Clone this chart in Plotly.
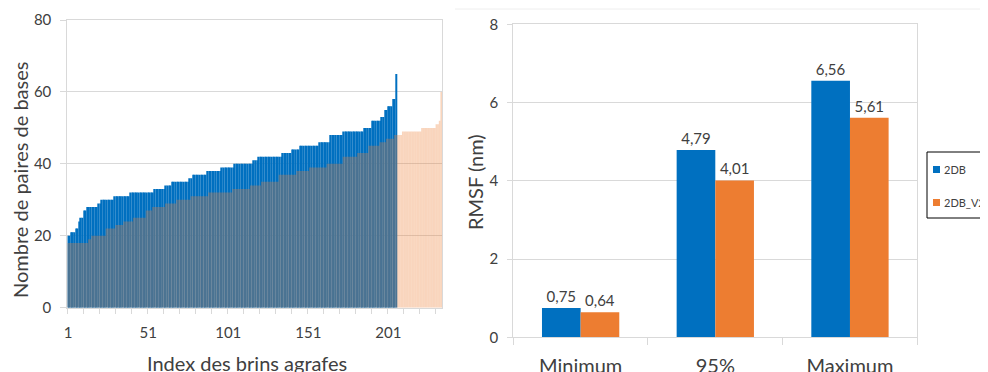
import plotly.graph_objects as go

# ---------------- data ----------------
blue_2db = [20, 20, 21, 21, 21, 22, 22, 24, 25, 25, 27, 27,
            28, 28, 28, 28, 28, 28, 28, 29, 29,
            30, 30, 30, 30, 30, 30, 30, 30,
            31, 31, 31, 31, 31, 31, 31, 31, 31, 31,
            32, 32, 32, 32, 32, 32, 32, 32, 32, 32, 32, 32, 32, 32, 32,
            33, 33, 33, 33, 33, 33, 33, 34, 34, 34, 34,
            35, 35, 35, 35, 35, 35, 35, 35, 35, 35, 35, 36, 36,
            37, 37, 37, 37, 37, 37, 37, 37, 37,
            38, 38, 38, 38, 38, 38, 38, 38, 38,
            39, 39, 39, 39, 39, 39, 39, 39,
            40, 40, 40, 40, 40, 40, 40, 40, 40, 40, 40, 40,
            41, 41, 41,
            42, 42, 42, 42, 42, 42, 42, 42, 42, 42, 42, 42, 42, 42, 42,
            43, 43, 43, 43, 43, 43, 44, 44, 44, 44, 44,
            45, 45, 45, 45, 45, 45, 45, 45, 45, 45, 45, 45,
            46, 46, 46, 46, 46, 46, 46,
            48, 48, 48, 48, 48, 48, 48, 48,
            49, 49, 49, 49, 49, 49, 49, 49, 49, 49, 49, 49, 49,
            50, 50, 50, 50, 50, 52, 52, 52, 52, 52, 52, 53, 53,
            55, 55, 56, 56, 56, 58, 58, 65]

orange_2db_v2 = [18, 18, 18, 18, 18, 18, 18, 18, 18, 18, 18, 18, 18, 19, 19,
                 20, 20, 20, 20, 20, 20, 20, 20, 20,
                 22, 22, 22, 22, 22, 22, 23, 23, 23, 23, 23,
                 24, 24, 24, 24, 24, 24, 25, 25, 25, 25, 25, 25, 25, 25,
                 27, 27, 27, 27, 28, 28, 28, 28, 28, 28, 28, 28,
                 29, 29, 29, 29, 29, 29, 29,
                 30, 30, 30, 30, 30, 30, 30, 30, 30,
                 31, 31, 31, 31, 31, 31, 31, 31, 31, 31, 31,
                 32, 32, 32, 32, 32, 32, 32, 32, 32, 32, 32, 32, 32, 32, 32,
                 33, 33, 33, 33, 33, 33, 33, 33, 33, 33, 33,
                 34, 34, 34, 34, 34, 34, 34,
                 35, 35, 35, 35, 35, 35, 35, 35, 35, 35, 35,
                 37, 37, 37, 37, 37, 37, 37, 37, 37, 37, 37,
                 38, 38, 38, 38, 38, 38, 38, 38,
                 39, 39, 39, 39, 39, 39, 39, 39, 39, 39, 39,
                 40, 40, 40, 40, 40, 40, 40, 40, 40, 40,
                 42, 42, 42, 42, 42, 42, 42, 42, 42,
                 43, 43, 43, 43, 43, 43, 43,
                 45, 45, 45, 45, 45, 45, 45, 46, 46, 46, 46,
                 47, 47, 47, 47, 47, 48, 48, 48, 48, 48,
                 49, 49, 49, 49, 49, 49, 49, 49, 49, 49, 49, 49,
                 50, 50, 50, 50, 50, 50, 50, 50, 50,
                 51, 51, 52, 60]

index_ticks = [1, 51, 101, 151, 201]

rmsf_categories = ["Minimum", "95%", "Maximum"]
rmsf_2db = [0.75, 4.79, 6.56]
rmsf_2db_v2 = [0.64, 4.01, 5.61]

series_names = ["2DB", "2DB_V2"]

# ---------------- styling ----------------
BLUE = "#0070C0"
ORANGE = "#ED7D31"
GRID = "#d9d9d9"
TXT = "#404040"
FONT = "Lato"
OFF = 8            # page body margin
W, H = 988 - OFF, 372 - OFF


def px_x(p):
    # page pixel -> paper fraction
    return (p - OFF) / W


def px_y(p):
    return (372 - p) / H


fig = go.Figure()

idx_blue = list(range(1, len(blue_2db) + 1))
idx_orange = list(range(1, len(orange_2db_v2) + 1))

fig.add_trace(go.Bar(x=idx_blue, y=blue_2db, name=series_names[0],
                     marker=dict(color=BLUE, line=dict(width=0)),
                     width=0.85, offset=-0.425, xaxis="x", yaxis="y",
                     showlegend=False, hoverinfo="x+y"))
fig.add_trace(go.Bar(x=idx_orange, y=orange_2db_v2, name=series_names[1],
                     marker=dict(color="rgba(237,125,49,0.32)", line=dict(width=0)),
                     width=1.0, offset=-0.5, xaxis="x", yaxis="y",
                     showlegend=False, hoverinfo="x+y"))

fig.add_trace(go.Bar(x=rmsf_categories, y=rmsf_2db, name=series_names[0],
                     marker=dict(color=BLUE, line=dict(width=0)),
                     texttemplate="%{y:.2f}", textposition="outside",
                     textfont=dict(family=FONT, size=15, color=TXT),
                     cliponaxis=False, xaxis="x2", yaxis="y2",
                     showlegend=False))
fig.add_trace(go.Bar(x=rmsf_categories, y=rmsf_2db_v2, name=series_names[1],
                     marker=dict(color=ORANGE, line=dict(width=0)),
                     texttemplate="%{y:.2f}", textposition="outside",
                     textfont=dict(family=FONT, size=15, color=TXT),
                     cliponaxis=False, xaxis="x2", yaxis="y2",
                     showlegend=False))

axis_common = dict(showline=True, linecolor=GRID, linewidth=1, mirror=True,
                   zeroline=False)

# legend drawn as a boxed key to the right of the RMSF chart
legend_shapes = [
    dict(type="rect", xref="paper", yref="paper",
         x0=px_x(927), x1=px_x(1000), y0=px_y(218), y1=px_y(152),
         line=dict(color="black", width=1), fillcolor="white", layer="above"),
    dict(type="rect", xref="paper", yref="paper",
         x0=px_x(933), x1=px_x(940), y0=px_y(173), y1=px_y(166),
         line=dict(width=0), fillcolor=BLUE, layer="above"),
    dict(type="rect", xref="paper", yref="paper",
         x0=px_x(933), x1=px_x(940), y0=px_y(206), y1=px_y(199),
         line=dict(width=0), fillcolor=ORANGE, layer="above"),
]
legend_texts = [
    dict(text=series_names[0], x=px_x(942), y=px_y(169.5), xref="paper",
         yref="paper", xanchor="left", yanchor="middle", showarrow=False,
         font=dict(family=FONT, size=11, color=TXT)),
    dict(text=series_names[1], x=px_x(942), y=px_y(202.5), xref="paper",
         yref="paper", xanchor="left", yanchor="middle", showarrow=False,
         font=dict(family=FONT, size=11, color=TXT)),
]

fig.update_layout(
    width=W, height=H,
    margin=dict(l=0, r=0, t=0, b=0, autoexpand=False),
    paper_bgcolor="white", plot_bgcolor="white",
    separators=", ",
    barmode="group", bargap=0.426, bargroupgap=0,
    font=dict(family=FONT, color=TXT),
    showlegend=False,
    xaxis=dict(domain=[px_x(67.3), px_x(442)], range=[0.5, 234.5],
               tickvals=index_ticks, ticks="", showgrid=False,
               ticklabelstandoff=11,
               tickfont=dict(family=FONT, size=15, color=TXT),
               minor=dict(ticks="outside", tick0=0.5, dtick=10, ticklen=5,
                          tickcolor=GRID, showgrid=False),
               anchor="y", **axis_common),
    yaxis=dict(domain=[px_y(307.7), px_y(20)], range=[0, 80], dtick=20,
               showgrid=True, gridcolor=GRID, ticks="outside", ticklen=6,
               tickcolor=GRID, ticklabelstandoff=6, anchor="x",
               tickfont=dict(family=FONT, size=15, color=TXT),
               **axis_common),
    xaxis2=dict(domain=[px_x(513.3), px_x(917.3)], type="category",
                ticks="outside", tickson="boundaries", ticklen=7,
                tickcolor=GRID, showgrid=False, anchor="y2",
                ticklabelstandoff=11,
                tickfont=dict(family=FONT, size=20, color=TXT),
                **axis_common),
    yaxis2=dict(domain=[px_y(337.3), px_y(24.3)], range=[0, 8], dtick=2,
                showgrid=True, gridcolor=GRID, ticks="outside", ticklen=5,
                tickcolor=GRID, ticklabelstandoff=6, anchor="x2",
                tickfont=dict(family=FONT, size=15, color=TXT),
                **axis_common),
    annotations=[
        dict(text="Nombre de paires de bases", textangle=-90,
             x=px_x(20), y=px_y(180), xref="paper", yref="paper",
             xanchor="center", yanchor="middle",
             showarrow=False, font=dict(family=FONT, size=20, color=TXT)),
        dict(text="Index des brins agrafes",
             x=px_x(247), y=px_y(363), xref="paper", yref="paper",
             xanchor="center", yanchor="middle",
             showarrow=False, font=dict(family=FONT, size=20, color=TXT)),
        dict(text="RMSF (nm)", textangle=-90,
             x=px_x(475), y=px_y(182), xref="paper", yref="paper",
             xanchor="center", yanchor="middle",
             showarrow=False, font=dict(family=FONT, size=20, color=TXT)),
    ] + legend_texts,
    shapes=[
        dict(type="line", xref="paper", yref="paper",
             x0=px_x(455), x1=1.0, y0=px_y(9), y1=px_y(9),
             line=dict(color="#eeeeee", width=1)),
    ] + legend_shapes,
)

fig.write_html("out.html")
